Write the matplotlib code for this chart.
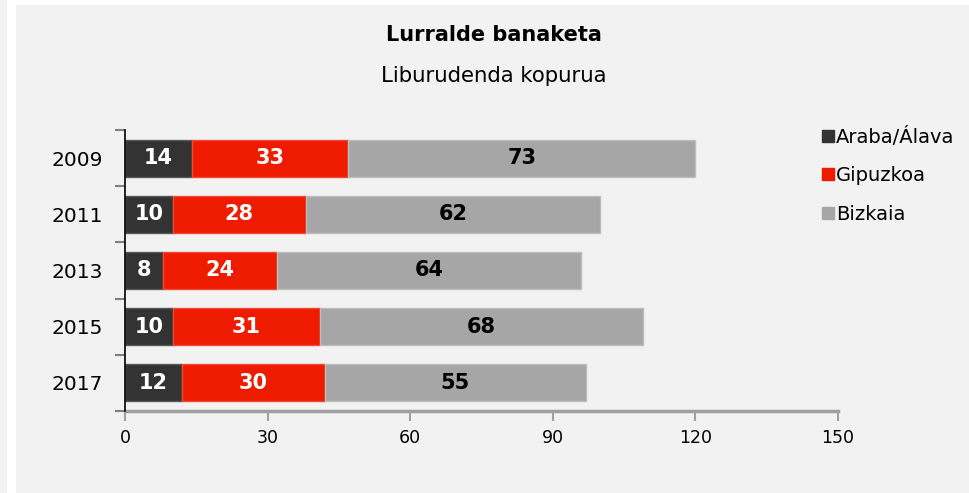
import matplotlib.pyplot as plt
from matplotlib.patches import Rectangle
from matplotlib.lines import Line2D

years = ["2009", "2011", "2013", "2015", "2017"]
araba = [14, 10, 8, 10, 12]
gipuzkoa = [33, 28, 24, 31, 30]
bizkaia = [73, 62, 64, 68, 55]
series_names = ["Araba/Álava", "Gipuzkoa", "Bizkaia"]
x_ticks = [0, 30, 60, 90, 120, 150]

colors = ["#333333", "#ee1b00", "#a6a6a6"]
edges = ["#5a5a5a", "#f24a33", "#bdbdbd"]
text_colors = ["white", "white", "black"]

bg = "#f2f2f2"
fig = plt.figure(figsize=(9.69, 4.93), dpi=100, facecolor="white")
# panel background
fig.patches.append(Rectangle((16 / 969, 0), 1, 1 - 5 / 493, transform=fig.transFigure,
                             facecolor=bg, edgecolor="none", zorder=-10))
fig.patches.append(Rectangle((0, 0), 7 / 969, 1, transform=fig.transFigure,
                             facecolor=bg, edgecolor="none", zorder=-10))

ax = fig.add_axes([125 / 969, 1 - 411 / 493, 713 / 969, 281 / 493])
ax.set_facecolor(bg)

ypos = list(range(len(years)))
left = [0] * len(years)
for vals, name, c, ec, tc in zip([araba, gipuzkoa, bizkaia], series_names, colors, edges, text_colors):
    bars = ax.barh(ypos, vals, left=left, height=0.66, color=c, edgecolor=ec,
                   linewidth=1, label=name)
    for b, v in zip(bars, vals):
        ax.text(b.get_x() + b.get_width() / 2, b.get_y() + b.get_height() / 2, str(v),
                ha="center", va="center", color=tc, fontsize=15, fontweight="bold")
    left = [l + v for l, v in zip(left, vals)]

ax.set_xlim(0, 150)
ax.set_ylim(4.5, -0.5)
ax.set_yticks(ypos)
ax.set_yticklabels(years, fontsize=14.5)
ax.set_yticks([i - 0.5 for i in range(len(years) + 1)], minor=True)
ax.tick_params(axis="y", which="major", length=0, pad=16)
ax.tick_params(axis="y", which="minor", length=7, width=1.5, color="#808080")
ax.set_xticks(x_ticks)
ax.set_xticklabels([str(t) for t in x_ticks], fontsize=12.5)
ax.tick_params(axis="x", length=7, width=1.5, color="#a0a0a0", pad=6)

for s in ["top", "right"]:
    ax.spines[s].set_visible(False)
ax.spines["left"].set_color("black")
ax.spines["left"].set_linewidth(1.2)
ax.spines["bottom"].set_color("#a0a0a0")
ax.spines["bottom"].set_linewidth(2.5)
ax.spines["left"].set_zorder(5)

fig.text(494 / 969, 1 - 35 / 493, "Lurralde banaketa", ha="center", va="center",
         fontsize=15, fontweight="bold")
fig.text(494 / 969, 1 - 76 / 493, "Liburudenda kopurua", ha="center", va="center",
         fontsize=15.3)

handles = [Line2D([], [], marker="s", linestyle="none", markersize=8, color=c) for c in colors]
fig.legend(handles, series_names, loc="upper left", bbox_to_anchor=(812 / 969, 1 - 117 / 493),
           frameon=False, fontsize=14, handlelength=0.6, handletextpad=0.15,
           labelspacing=1.0, borderpad=0)

plt.savefig("out.png", dpi=100, facecolor="white")
plt.close()
